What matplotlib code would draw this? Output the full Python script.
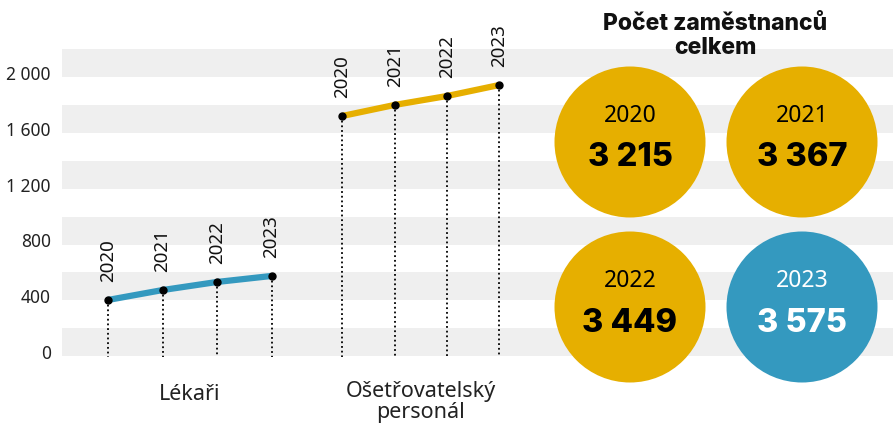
import matplotlib
matplotlib.use("Agg")
import matplotlib.pyplot as plt
from matplotlib.patches import Circle

plt.rcParams['font.family'] = ['Noto Sans', 'DejaVu Sans']

years = ["2020", "2021", "2022", "2023"]
lekari = [373, 444, 502, 545]
osetrovatelsky = [1692, 1771, 1835, 1914]
totals = [3215, 3367, 3449, 3575]
yticks = [0, 400, 800, 1200, 1600, 2000]
groups = ["Lékaři", "Ošetřovatelský\npersonál"]

BLUE = "#3499bf"
YELLOW = "#e6af00"
BAND = "#efefef"


def fmt(v):
    return f"{v:,}".replace(",", " ")


W, H = 893, 430
fig = plt.figure(figsize=(W / 100, H / 100), dpi=100)

# main chart axes, full height, starts where the grey bands start
ax = fig.add_axes([62 / W, 0, 1 - 62 / W, 1])
unit = 54.5
ax.set_xlim(-(108 - 62) / unit, (W - 108) / unit)
ppv = 279 / 2000  # pixels per value
ax.set_ylim(-(H - 352) / ppv, 352 / ppv)

for v in yticks:
    ax.axhspan(v - 30, v + 170, color=BAND, lw=0, zorder=0)

ax.set_yticks(yticks)
ax.set_yticklabels([fmt(v) for v in yticks], fontsize=12.5, color="#222222")
ax.tick_params(axis="y", length=0, pad=8)
ax.set_xticks([])
for s in ax.spines.values():
    s.set_visible(False)

series = [(lekari, BLUE, 0.0, 1.0), (osetrovatelsky, YELLOW, 4.3, 0.96)]
for vals, col, start, step in series:
    xs = [start + i * step for i in range(len(vals))]
    ax.plot(xs, vals, color=col, lw=4.5, solid_capstyle="butt", zorder=3)
    ax.plot(xs, vals, "o", color="black", ms=5, zorder=4)
    for x, v, yr in zip(xs, vals, years):
        ax.plot([x, x], [v, -35], color="black", lw=1.3,
                ls=(0, (1, 1.6)), zorder=2)
        ax.annotate(yr, (x, v), xytext=(0, 13), textcoords="offset points",
                    rotation=90, ha="center", va="bottom", fontsize=13.5,
                    color="#111111")

ax.text(1.5, -(395 - 352) / ppv, groups[0], ha="center", va="center",
        fontsize=15.5, color="#222222")
ax.text(4.3 + 1.44, -(402 - 352) / ppv, groups[1], ha="center", va="center",
        fontsize=15.5, color="#222222", linespacing=1.0)

# overlay in pixel coordinates for the totals
ov = fig.add_axes([0, 0, 1, 1], zorder=5)
ov.set_xlim(0, W)
ov.set_ylim(H, 0)
ov.axis("off")
ov.patch.set_alpha(0)

ov.text(715, 36, "Počet zaměstnanců\ncelkem", ha="center", va="center",
        fontsize=16.5, fontweight="heavy", family=["Inter", "DejaVu Sans"],
        color="#111111", linespacing=1.15)

centers = [(630, 142), (802, 142), (630, 307), (802, 307)]
for (cx, cy), yr, tot, i in zip(centers, years, totals, range(4)):
    last = i == len(totals) - 1
    ov.add_patch(Circle((cx, cy), 75.5, color=BLUE if last else YELLOW, lw=0))
    tc = "white" if last else "black"
    ov.text(cx, cy - 26, yr, ha="center", va="center", fontsize=16.5, color=tc)
    ov.text(cx, cy + 16, fmt(tot), ha="center", va="center", fontsize=23.5,
            fontweight="heavy", family=["Inter", "DejaVu Sans"], color=tc)

fig.savefig("out.png", dpi=100)
